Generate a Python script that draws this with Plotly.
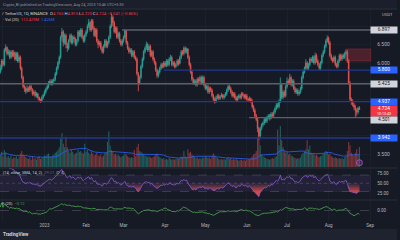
import numpy as np
import pandas as pd
import plotly.graph_objects as go

W, H = 400, 240

# ---------------- data ----------------
start_date = "2022-11-29"
first_open = 5.75
close = [
    5.85, 6.05, 5.95, 6.35, 6.42, 6.25, 6.3, 6.15, 6.3, 6.2,
    6.28, 6.1, 6.25, 6.05, 6.15, 5.85, 5.6, 5.35, 5.3, 5.22,
    5.3, 5.25, 5.35, 5.28, 5.15, 5.2, 5.1, 5.15, 5.05, 4.98,
    4.96, 5.05, 5.12, 5.2, 5.28, 5.35, 5.45, 5.5, 5.42, 5.5,
    5.55, 5.7, 5.85, 6.0, 6.15, 6.7, 6.85, 6.55, 6.75, 6.5,
    6.4, 6.6, 6.75, 6.55, 6.7, 6.65, 6.5, 6.6, 6.85, 6.75,
    6.9, 6.7, 6.6, 6.75, 6.85, 7.0, 7.1, 6.9, 7.15, 6.95,
    6.75, 6.9, 6.6, 6.5, 6.55, 6.4, 6.3, 6.45, 6.6, 6.45,
    6.55, 6.7, 7.0, 7.25, 7.1, 6.85, 6.95, 6.7, 6.8, 6.6,
    6.5, 6.6, 6.7, 6.88, 6.55, 6.4, 6.3, 6.35, 6.2, 6.3,
    6.15, 6.1, 5.7, 5.45, 5.6, 5.9, 6.1, 6.3, 6.4, 6.5,
    6.35, 6.45, 6.2, 6.3, 6.1, 6.0, 5.8, 5.65, 5.75, 5.85,
    5.95, 5.9, 6.0, 5.92, 6.05, 5.95, 6.1, 6.15, 5.95, 6.0,
    5.9, 5.95, 6.05, 5.98, 6.15, 6.3, 6.25, 6.4, 6.3, 6.38,
    6.15, 5.95, 5.75, 5.55, 5.45, 5.5, 5.4, 5.55, 5.5, 5.6,
    5.45, 5.6, 5.4, 5.3, 5.35, 5.2, 5.3, 5.25, 5.1, 5.0,
    4.95, 5.05, 5.1, 5.02, 5.08, 5.12, 5.05, 5.1, 5.15, 5.25,
    5.35, 5.3, 5.2, 5.1, 5.15, 5.05, 4.98, 5.05, 5.1, 5.05,
    5.15, 5.12, 5.05, 5.1, 5.0, 4.98, 5.02, 4.95, 4.8, 4.7,
    4.55, 4.45, 4.2, 4.0, 4.2, 4.3, 4.35, 4.45, 4.4, 4.5,
    4.55, 4.48, 4.6, 4.55, 4.65, 4.75, 4.85, 4.8, 4.95, 5.4,
    5.05, 5.2, 5.1, 5.35, 5.5, 5.45, 5.6, 5.4, 5.5, 5.3,
    5.2, 5.25, 5.15, 5.2, 5.3, 5.6, 5.75, 5.85, 6.0, 5.85,
    5.95, 6.1, 6.05, 6.15, 6.0, 6.2, 6.05, 5.95, 5.85, 6.0,
    6.2, 6.3, 6.45, 6.6, 6.68, 6.55, 6.2, 6.1, 6.05, 6.15,
    5.95, 5.9, 6.05, 6.2, 6.1, 6.2, 6.15, 6.25, 6.3, 6.05,
    5.45, 5.0, 4.95, 4.85, 4.78, 4.7, 4.65, 4.765, 4.724,
]
high = [
    5.95, 6.1, 6.1, 6.4, 6.5, 6.45, 6.38, 6.35, 6.35, 6.35,
    6.35, 6.3, 6.3, 6.3, 6.2, 6.2, 5.9, 5.65, 5.4, 5.35,
    5.38, 5.35, 5.4, 5.4, 5.3, 5.25, 5.25, 5.2, 5.18, 5.08,
    5.02, 5.1, 5.15, 5.25, 5.32, 5.4, 5.5, 5.55, 5.55, 5.55,
    5.6, 5.75, 5.9, 6.05, 6.2, 6.75, 6.95, 6.9, 6.8, 6.8,
    6.55, 6.65, 6.8, 6.8, 6.75, 6.75, 6.7, 6.65, 6.9, 6.9,
    6.95, 6.95, 6.75, 6.8, 6.9, 7.05, 7.2, 7.15, 7.2, 7.2,
    7.0, 6.95, 6.95, 6.65, 6.6, 6.6, 6.45, 6.5, 6.65, 6.65,
    6.6, 6.75, 7.05, 7.35, 7.3, 7.15, 7.0, 7.0, 6.85, 6.85,
    6.65, 6.65, 6.75, 6.92, 6.9, 6.6, 6.45, 6.4, 6.4, 6.35,
    6.35, 6.2, 6.15, 5.75, 5.65, 5.95, 6.15, 6.35, 6.45, 6.58,
    6.55, 6.5, 6.5, 6.35, 6.35, 6.15, 6.05, 5.85, 5.8, 5.9,
    6.0, 6.0, 6.05, 6.05, 6.1, 6.1, 6.15, 6.22, 6.2, 6.05,
    6.05, 6.0, 6.1, 6.1, 6.2, 6.35, 6.35, 6.45, 6.45, 6.42,
    6.4, 6.2, 6.0, 5.8, 5.6, 5.55, 5.55, 5.6, 5.6, 5.65,
    5.65, 5.65, 5.65, 5.45, 5.4, 5.4, 5.35, 5.35, 5.3, 5.15,
    5.05, 5.1, 5.15, 5.15, 5.12, 5.18, 5.15, 5.15, 5.2, 5.3,
    5.4, 5.4, 5.35, 5.25, 5.2, 5.2, 5.1, 5.1, 5.15, 5.15,
    5.2, 5.2, 5.15, 5.15, 5.15, 5.05, 5.08, 5.05, 5.0, 4.85,
    4.75, 4.6, 4.5, 4.25, 4.25, 4.35, 4.4, 4.5, 4.5, 4.55,
    4.6, 4.6, 4.65, 4.65, 4.7, 4.8, 4.9, 4.9, 5.0, 5.6,
    5.45, 5.25, 5.25, 5.4, 5.6, 5.55, 5.7, 5.65, 5.55, 5.55,
    5.35, 5.3, 5.3, 5.25, 5.35, 5.65, 5.8, 5.9, 6.1, 6.05,
    6.0, 6.15, 6.15, 6.2, 6.2, 6.28, 6.25, 6.1, 6.0, 6.05,
    6.25, 6.35, 6.5, 6.65, 6.75, 6.72, 6.6, 6.25, 6.15, 6.2,
    6.2, 6.0, 6.1, 6.25, 6.25, 6.25, 6.25, 6.3, 6.35, 6.35,
    6.1, 5.5, 5.05, 5.0, 4.9, 4.85, 4.75, 4.8, 4.815,
]
low = [
    5.7, 5.8, 5.9, 5.9, 6.3, 6.2, 6.2, 6.1, 6.1, 6.15,
    6.15, 6.05, 6.05, 6.0, 6.0, 5.8, 5.55, 5.3, 5.2, 5.15,
    5.18, 5.2, 5.2, 5.22, 5.1, 5.1, 5.05, 5.05, 5.0, 4.93,
    4.9, 4.92, 5.0, 5.08, 5.15, 5.25, 5.3, 5.4, 5.38, 5.38,
    5.45, 5.5, 5.65, 5.8, 5.95, 6.1, 6.6, 6.45, 6.5, 6.4,
    6.3, 6.35, 6.55, 6.5, 6.5, 6.55, 6.45, 6.45, 6.55, 6.7,
    6.7, 6.65, 6.55, 6.55, 6.7, 6.8, 6.95, 6.85, 6.85, 6.9,
    6.7, 6.7, 6.55, 6.4, 6.45, 6.35, 6.25, 6.25, 6.4, 6.4,
    6.4, 6.5, 6.65, 6.95, 7.0, 6.8, 6.8, 6.65, 6.65, 6.55,
    6.45, 6.45, 6.55, 6.65, 6.5, 6.35, 6.25, 6.25, 6.15, 6.15,
    6.1, 6.05, 5.65, 5.22, 5.4, 5.55, 5.85, 6.05, 6.25, 6.35,
    6.3, 6.3, 6.15, 6.15, 6.05, 5.95, 5.75, 5.58, 5.6, 5.7,
    5.8, 5.85, 5.85, 5.88, 5.88, 5.9, 5.9, 6.05, 5.9, 5.9,
    5.85, 5.85, 5.9, 5.92, 5.95, 6.1, 6.2, 6.2, 6.25, 6.25,
    6.1, 5.9, 5.7, 5.5, 5.4, 5.4, 5.35, 5.35, 5.45, 5.45,
    5.4, 5.4, 5.35, 5.25, 5.25, 5.15, 5.15, 5.2, 5.05, 4.95,
    4.88, 4.9, 5.0, 4.98, 4.98, 5.05, 5.0, 5.0, 5.05, 5.1,
    5.2, 5.25, 5.15, 5.05, 5.05, 5.0, 4.93, 4.95, 5.0, 5.0,
    5.0, 5.08, 5.0, 5.0, 4.95, 4.93, 4.95, 4.9, 4.75, 4.65,
    4.5, 4.4, 4.1, 3.9, 3.95, 4.15, 4.25, 4.3, 4.35, 4.35,
    4.45, 4.42, 4.45, 4.5, 4.5, 4.6, 4.7, 4.75, 4.75, 4.9,
    5.0, 5.0, 5.05, 5.05, 5.3, 5.4, 5.4, 5.35, 5.35, 5.25,
    5.15, 5.15, 5.1, 5.1, 5.15, 5.25, 5.55, 5.7, 5.8, 5.8,
    5.8, 5.9, 6.0, 6.0, 5.95, 5.95, 6.0, 5.9, 5.8, 5.8,
    5.95, 6.15, 6.25, 6.4, 6.55, 6.5, 6.15, 6.05, 6.0, 6.0,
    5.9, 5.85, 5.85, 6.0, 6.05, 6.05, 6.1, 6.1, 6.2, 6.0,
    5.4, 4.95, 4.85, 4.8, 4.7, 4.5, 4.55, 4.6, 4.72,
]
volume = [  # millions
    70, 85, 60, 95, 80, 55, 60, 50, 65, 45,
    55, 50, 60, 45, 55, 75, 90, 70, 60, 55,
    50, 45, 55, 40, 60, 45, 50, 40, 55, 60,
    45, 50, 55, 65, 60, 70, 75, 60, 55, 65,
    70, 80, 85, 95, 110, 160, 190, 130, 110, 170,
    110, 90, 80, 95, 85, 70, 75, 80, 95, 85,
    90, 80, 75, 130, 85, 95, 80, 70, 90, 75,
    65, 70, 80, 65, 60, 70, 55, 65, 75, 80,
    140, 200, 120, 95, 85, 70, 75, 65, 70, 60,
    55, 60, 65, 75, 70, 60, 55, 50, 55, 50,
    95, 60, 110, 130, 90, 85, 75, 70, 65, 60,
    55, 60, 55, 50, 55, 60, 70, 75, 60, 55,
    50, 45, 50, 40, 45, 40, 50, 45, 40, 45,
    40, 45, 50, 45, 55, 60, 55, 90, 60, 55,
    100, 80, 85, 70, 65, 55, 50, 55, 45, 50,
    45, 55, 50, 60, 55, 50, 55, 45, 60, 75,
    65, 55, 50, 45, 40, 45, 40, 45, 40, 50,
    55, 45, 50, 40, 45, 40, 45, 40, 35, 40,
    40, 35, 40, 35, 40, 45, 40, 50, 60, 70,
    75, 90, 170, 200, 120, 70, 60, 55, 50, 45,
    45, 40, 45, 50, 45, 55, 60, 210, 120, 230,
    150, 110, 90, 80, 85, 70, 75, 65, 60, 55,
    50, 45, 50, 45, 55, 70, 80, 90, 100, 150,
    100, 120, 80, 70, 75, 65, 70, 60, 55, 60,
    65, 75, 80, 90, 85, 70, 75, 60, 55, 50,
    55, 50, 45, 50, 45, 50, 45, 55, 60, 90,
    140, 120, 80, 70, 65, 80, 100, 70, 112.429,
]

month_ticks = ["2022-12-01", "2023-01-01", "2023-02-01", "2023-03-01", "2023-04-01",
               "2023-05-01", "2023-06-01", "2023-07-01", "2023-08-01", "2023-09-01"]
month_labels = ["Dec", "2023", "Feb", "Mar", "Apr", "May", "Jun", "Jul", "Aug", "Sep"]

x_range = ["2022-11-28 18:40", "2023-09-01 19:10"]

level_prices = [6.897, 5.425, 4.501, 5.800, 4.937, 3.942]
level_starts = ["2023-02-27 22:00", None, "2023-06-02 16:00", "2023-03-31 00:00", None, None]
level_kinds = ["grey", "grey", "grey", "blue", "blue", "blue"]

zone_prices = [6.05, 6.38]
zone_start = "2023-08-13 14:00"

axis_label_prices = [6.897, 5.800, 5.425, 4.937, 4.724, 4.501, 3.942]
axis_label_kinds = ["white", "blue", "white", "blue", "red", "white", "blue"]
axis_label_shift = [0, 0, 0, 0, 0.5, -2, 0]
countdown_text = "10:13:43"

price_ticks = [3.5, 4.0, 4.5, 5.0, 5.5, 6.0, 6.5, 7.0]
price_tick_labels = ["3.500", "", "", "", "", "6.000", "6.500", ""]
rsi_ticks = [25, 50, 75]
rsi_levels = [70, 50, 30]
event_dates = ["2023-08-24"]

# ---------------- derived series ----------------
n = len(close)
dates = pd.date_range(start_date, periods=n, freq="D")
open_ = [first_open] + close[:-1]
c = pd.Series(close, dtype=float)
h = pd.Series(high, dtype=float)
l = pd.Series(low, dtype=float)
v = pd.Series(volume, dtype=float)
up = (c >= pd.Series(open_)).values

vol_ma = v.rolling(20, min_periods=1).mean()

d = c.diff()
gain = d.clip(lower=0)
loss = -d.clip(upper=0)
ag = gain.ewm(alpha=1 / 14, adjust=False).mean()
al = loss.ewm(alpha=1 / 14, adjust=False).mean()
rsi = 100 - 100 / (1 + ag / al)

mfm = ((c - l) - (h - c)) / (h - l)
cmf = (mfm * v).rolling(20, min_periods=1).sum() / v.rolling(20, min_periods=1).sum()

# ---------------- layout helpers ----------------
def py(ypx):
    return 1 - ypx / H

BG = "#161a25"
GRID = "rgba(42,46,57,0.55)"
TXT = "#b2b5be"
GREEN = "#26a69a"
RED = "#ef5350"
FONT = "Roboto"
XD = 374 / W

fig = go.Figure()

# volume
fig.add_trace(go.Bar(
    x=dates, y=v, xaxis="x", yaxis="y2",
    marker=dict(color=np.where(up, "rgba(38,166,154,0.5)", "rgba(239,83,80,0.5)"), line=dict(width=0)),
    hoverinfo="skip", showlegend=False))
fig.add_trace(go.Scatter(
    x=dates, y=vol_ma, xaxis="x", yaxis="y2", mode="lines",
    line=dict(color="#2962ff", width=0.8), hoverinfo="skip", showlegend=False))
fig.add_trace(go.Scatter(
    x=pd.to_datetime(event_dates), y=[24] * len(event_dates), xaxis="x", yaxis="y2", mode="markers",
    marker=dict(symbol="circle", size=6, color="rgba(171,71,188,0.25)", line=dict(color="#ab47bc", width=1)),
    hoverinfo="skip", showlegend=False))

# candles
fig.add_trace(go.Candlestick(
    x=dates, open=open_, high=high, low=low, close=close, xaxis="x", yaxis="y",
    increasing=dict(line=dict(color=GREEN, width=0.8), fillcolor=GREEN),
    decreasing=dict(line=dict(color=RED, width=0.8), fillcolor=RED),
    whiskerwidth=0, hoverinfo="skip", showlegend=False))

# RSI fills (gradient below 50)
for t, op in [(50, 0.12), (45, 0.18), (40, 0.28), (35, 0.38), (30, 0.5)]:
    fig.add_trace(go.Scatter(x=dates, y=[t] * n, xaxis="x", yaxis="y3", mode="lines",
                             line=dict(width=0), hoverinfo="skip", showlegend=False))
    fig.add_trace(go.Scatter(x=dates, y=np.minimum(rsi, t), xaxis="x", yaxis="y3", mode="lines",
                             line=dict(width=0), fill="tonexty",
                             fillcolor=f"rgba(255,82,82,{op})", hoverinfo="skip", showlegend=False))
fig.add_trace(go.Scatter(x=dates, y=rsi, xaxis="x", yaxis="y3", mode="lines",
                         line=dict(color="#7e57c2", width=0.9), hoverinfo="skip", showlegend=False))

# CMF
fig.add_trace(go.Scatter(x=dates, y=cmf, xaxis="x", yaxis="y4", mode="lines",
                         line=dict(color="#43a047", width=0.9), hoverinfo="skip", showlegend=False))

shapes = []
shapes.append(dict(type="rect", xref="paper", yref="paper", x0=0, x1=1, y0=py(9), y1=1,
                   fillcolor="#1b1f2b", line=dict(width=0), layer="below"))
shapes.append(dict(type="rect", xref="paper", yref="paper", x0=0, x1=1, y0=0, y1=py(229),
                   fillcolor="#1f2330", line=dict(width=0), layer="below"))
for ypx in [9, 168, 200]:
    shapes.append(dict(type="line", xref="paper", yref="paper", x0=0, x1=1, y0=py(ypx), y1=py(ypx),
                       line=dict(color="#2a2e39", width=1)))
level_colors = {"grey": "#5d606b", "blue": "#22398c"}
for p, s, k in zip(level_prices, level_starts, level_kinds):
    shapes.append(dict(type="line", xref="x", yref="y", x0=s if s else x_range[0], x1=x_range[1],
                       y0=p, y1=p, line=dict(color=level_colors[k], width=1.4)))
shapes.append(dict(type="rect", xref="x", yref="y", x0=zone_start, x1=x_range[1],
                   y0=zone_prices[0], y1=zone_prices[1],
                   fillcolor="rgba(242,54,69,0.25)", line=dict(color="rgba(242,54,69,0.35)", width=0.8)))
shapes.append(dict(type="rect", xref="x", yref="y3", x0=x_range[0], x1=x_range[1],
                   y0=rsi_levels[2], y1=rsi_levels[0], fillcolor="rgba(126,87,194,0.12)",
                   line=dict(width=0), layer="below"))
for lv, dash in zip(rsi_levels, ["dash", "dot", "dash"]):
    shapes.append(dict(type="line", xref="x", yref="y3", x0=x_range[0], x1=x_range[1], y0=lv, y1=lv,
                       line=dict(color="rgba(120,123,134,0.6)", width=0.6, dash=dash)))
shapes.append(dict(type="line", xref="x", yref="y4", x0=x_range[0], x1=x_range[1], y0=0, y1=0,
                   line=dict(color="rgba(120,123,134,0.6)", width=0.6, dash="dash")))

ann = []
def txt(x, y, text, size=4.0, color=TXT, xanchor="left", **kw):
    ann.append(dict(xref="paper", yref="paper", x=x / W, y=py(y), text=text, showarrow=False,
                    xanchor=xanchor, yanchor="middle", font=dict(family=FONT, size=size, color=color), **kw))

txt(1, 4, "Crypto_BI published on TradingView.com, Aug 24, 2023 10:46 UTC+5:30", 3.8, "#9598a1")
R = "#f23645"
hdr = ("<span style='color:#d1d4dc'>/ TetherUS, 1D, BINANCE</span>  "
       f"O<span style='color:{R}'>4.765</span> H<span style='color:{R}'>4.815</span> "
       f"L<span style='color:{R}'>4.720</span> C<span style='color:{R}'>4.724</span> "
       f"<span style='color:{R}'>−0.041 (−0.86%)</span>")
txt(0, 13.3, hdr, 4.2, "#d1d4dc")
txt(1, 19.6, f"· Vol (20)  <span style='color:{R}'>112.429M</span>  <span style='color:#2962ff'>1.426M</span>",
    4.0, "#d1d4dc")
txt(1, 172, "(14, close, SMA, 14, 2)  <span style='color:#7e57c2'>29.21</span>  ∅  ∅", 4.0, "#d1d4dc")
txt(0, 203.5, "F (20)  <span style='color:#43a047'>−0.12</span>", 4.0, "#d1d4dc")
txt(1, 234.5, "<b>TradingView</b>", 4.5, "#d1d4dc")
txt(398, 14, "USDT", 4.2, TXT, xanchor="right")

box_style = {"white": ("#d1d4dc", "#131722"), "blue": ("#2962ff", "#ffffff"), "red": ("#f23645", "#ffffff")}
for p, k, s in zip(axis_label_prices, axis_label_kinds, axis_label_shift):
    bg, fg = box_style[k]
    ann.append(dict(xref="paper", yref="y", x=373 / W, y=p, yshift=s, xanchor="left", yanchor="middle",
                    text=f"{p:.3f}", showarrow=False, bgcolor=bg, width=26, height=5.5, borderpad=0,
                    font=dict(family=FONT, size=4.8, color=fg)))
    if k == "red":
        ann.append(dict(xref="paper", yref="y", x=373 / W, y=p, yshift=s - 5.0, xanchor="left",
                        yanchor="middle", text=countdown_text, showarrow=False, bgcolor=bg,
                        width=26, height=4.2, borderpad=0,
                        font=dict(family=FONT, size=3.6, color=fg)))

axis_common = dict(showline=False, zeroline=False, ticks="", fixedrange=True)
fig.update_layout(
    width=W, height=H, margin=dict(l=0, r=0, t=0, b=0),
    paper_bgcolor=BG, plot_bgcolor=BG, showlegend=False, bargap=0.2,
    font=dict(family=FONT, size=4.5, color=TXT),
    xaxis=dict(domain=[0, XD], range=x_range, type="date", anchor="y4",
               tickvals=pd.to_datetime(month_ticks), ticktext=month_labels,
               tickfont=dict(size=4.5, color=TXT), showgrid=True, gridcolor=GRID, gridwidth=0.6,
               rangeslider=dict(visible=False), **axis_common),
    yaxis=dict(domain=[py(167), py(9)], range=[3.149, 7.472], side="right", anchor="x",
               tickvals=price_ticks, ticktext=price_tick_labels,
               tickfont=dict(size=5, color=TXT), ticklabelstandoff=5,
               showgrid=True, gridcolor=GRID, gridwidth=0.6, **axis_common),
    yaxis2=dict(overlaying="y", range=[0, 885], visible=False, fixedrange=True),
    yaxis3=dict(domain=[py(199), py(168)], range=[11.6, 87.2], side="right", anchor="x",
                tickvals=rsi_ticks, ticktext=[f"{t:.2f}" for t in rsi_ticks],
                tickfont=dict(size=4.5, color=TXT), ticklabelstandoff=5, showgrid=False, **axis_common),
    yaxis4=dict(domain=[py(221), py(200)], range=[-0.62, 0.62], side="right", anchor="x",
                tickvals=[0], ticktext=["0.00"],
                tickfont=dict(size=4.5, color=TXT), ticklabelstandoff=5, showgrid=False, **axis_common),
    shapes=shapes, annotations=ann,
)

fig.write_html(
    "out.html",
    config={"displayModeBar": False, "staticPlot": True},
    post_script="document.body.style.margin='0';document.body.style.background='#161a25';"
                "document.documentElement.style.overflow='hidden';",
)
